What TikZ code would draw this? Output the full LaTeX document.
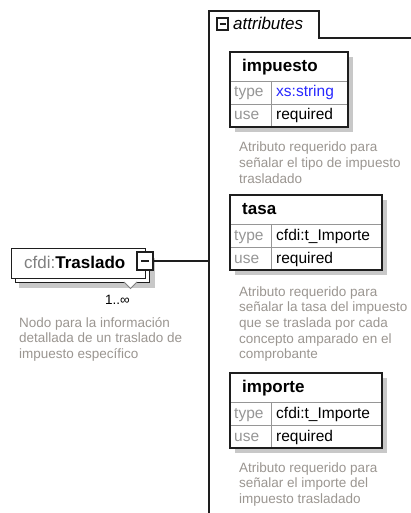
\documentclass[tikz,border=0pt]{standalone}
\usepackage{fontspec}
\setmainfont{Liberation Sans}
\definecolor{descgray}{RGB}{155,150,145}
\definecolor{lblgray}{RGB}{150,150,150}
\definecolor{shadowgray}{RGB}{200,200,200}
\definecolor{xsblue}{RGB}{40,40,255}
\definecolor{edge}{RGB}{30,30,30}
\definecolor{innergray}{RGB}{150,150,150}
\tikzset{
  desc/.style={anchor=base west, inner sep=0, font=\fontsize{13.5}{15}\selectfont, text=descgray},
  hdr/.style={anchor=base west, inner sep=0, font=\fontsize{17}{19}\bfseries, text=black},
  lbl/.style={anchor=base west, inner sep=0, font=\fontsize{15.5}{17}\selectfont, text=lblgray},
  val/.style={anchor=base west, inner sep=0, font=\fontsize{15.5}{17}\selectfont, text=black},
  boxout/.style={draw=edge, line width=1.6pt},
  boxin/.style={draw=innergray, line width=0.8pt},
  cont/.style={draw=edge, line width=1.2pt},
  minusbox/.style={draw=edge, line width=1.8pt, fill=white, inner sep=0}
}
\newcommand\attbox[6]{% #1 name, #2 top y, #3 right x, #4 header, #5 type text, #6 type color
  \fill[shadowgray] (235,#2+5) rectangle (#3+5,#2+80);
  \fill[white] (230,#2) rectangle (#3,#2+75);
  \draw[boxin] (230,#2+29) -- (#3,#2+29) (230,#2+52) -- (#3,#2+52) (271.5,#2+29) -- (271.5,#2+75);
  \draw[boxout] (230,#2) rectangle (#3,#2+75);
  \node[hdr] (#1-h) at (242,#2+19.5) {#4};
  \node[lbl] (#1-tl) at (234,#2+45) {type};
  \node[val, text=#6] (#1-tv) at (276,#2+45) {#5};
  \node[lbl] (#1-ul) at (234,#2+68) {use};
  \node[val] (#1-uv) at (276,#2+68) {required};
}
\begin{document}
\begin{tikzpicture}[x=1pt,y=-1pt]
\useasboundingbox (0,0) rectangle (411,513);
\fill[white] (0,0) rectangle (411,513);
% container with tab
\draw[cont] (209,513) -- (209,11) -- (319,11) -- (319,38) -- (411,38);
\node[minusbox, minimum width=11.5pt, minimum height=11.5pt] (tabmin) at (222.5,24) {};
\draw[edge, line width=1.6pt] (219.5,24) -- (225.5,24);
\node[anchor=base west, inner sep=0, font=\fontsize{17}{19}\itshape] (attr) at (233,29.5) {attributes};
% attribute boxes
\attbox{imp}{52}{348}{impuesto}{xs:string}{xsblue}
\attbox{tasa}{195}{382}{tasa}{cfdi:t\_Importe}{black}
\attbox{impo}{373}{382}{importe}{cfdi:t\_Importe}{black}
% descriptions
\foreach \t [count=\i] in {Atributo requerido para, señalar el tipo de impuesto, trasladado}
  \node[desc] (dimp-\i) at (239,{152+15.7*(\i-1)}) {\t};
\foreach \t [count=\i] in {Atributo requerido para, señalar la tasa del impuesto, que se traslada por cada, concepto amparado en el, comprobante}
  \node[desc] (dtasa-\i) at (239,{296+15.7*(\i-1)}) {\t};
\foreach \t [count=\i] in {Atributo requerido para, señalar el importe del, impuesto trasladado}
  \node[desc] (dimpo-\i) at (239,{472+15.7*(\i-1)}) {\t};
% Traslado element
\fill[shadowgray] (19,258) rectangle (155,288);
\draw[fill=white, draw=edge, line width=1pt] (15,252) rectangle (149,282);
\draw[fill=white, draw=edge, line width=1pt] (11,248) rectangle (145,278);
\node[anchor=base west, inner sep=0, font=\fontsize{17}{19}\selectfont] (tras) at (24,268.5) {\textcolor{gray}{cfdi:}\textbf{Traslado}};
\node[minusbox, minimum width=16pt, minimum height=18pt] (trmin) at (145,261) {};
\draw[edge, line width=1.6pt] (141,261) -- (149,261);
\draw[draw=gray, fill=white, line width=0.8pt] (124,282) -- (130.5,288.5) -- (137,282);
\coordinate (contin) at (209,261);
\draw[cont] (trmin.east) -- (contin);
\node[anchor=base west, inner sep=0, font=\fontsize{13.5}{15}\selectfont] (mult) at (105,304) {1..∞};
\foreach \t [count=\i] in {Nodo para la información, detallada de un traslado de, impuesto específico}
  \node[desc] (dtr-\i) at (19,{327+15.7*(\i-1)}) {\t};
\end{tikzpicture}
\end{document}
